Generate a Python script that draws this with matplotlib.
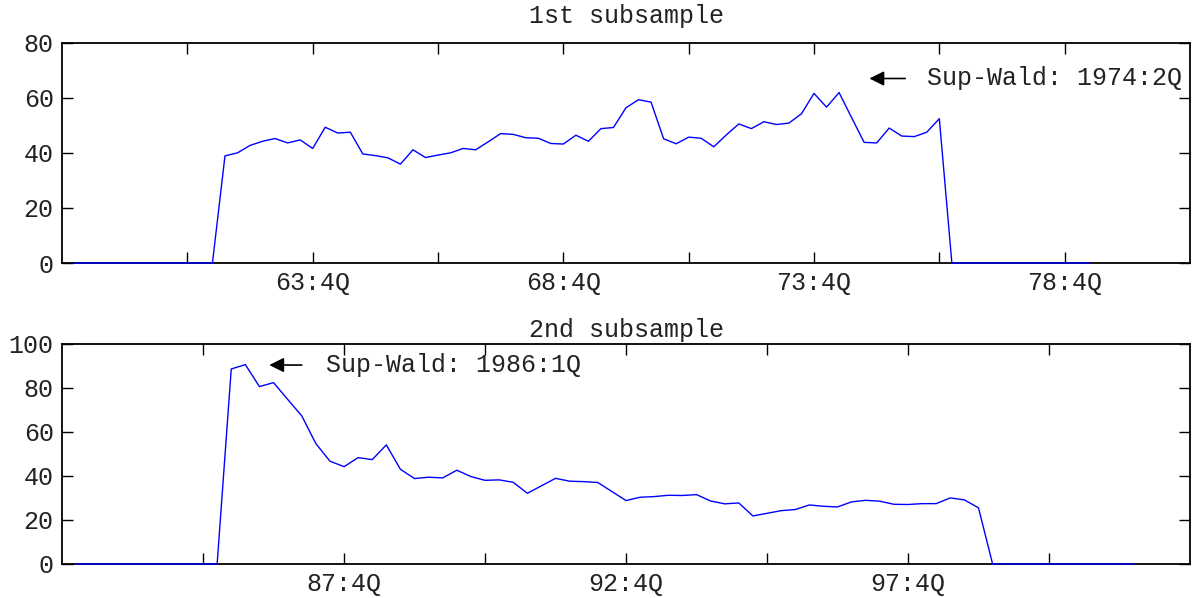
import matplotlib
matplotlib.use("Agg")
import matplotlib.pyplot as plt
import numpy as np

plt.rcParams['font.family'] = ['Liberation Mono', 'DejaVu Sans Mono']
plt.rcParams['font.size'] = 18

# 1st subsample: quarter index 0 = 1958:4Q
q1 = list(range(1, 83))
wald1 = [0, 0, 0, 0, 0, 0, 0, 0, 0, 0, 0, 0,
         38.9, 40.0, 42.7, 44.2, 45.2, 43.6, 44.7, 41.6, 49.3, 47.2,
         47.5, 39.6, 39.0, 38.2, 35.9, 41.1, 38.3, 39.2, 40.0, 41.6,
         41.1, 44.0, 47.0, 46.7, 45.5, 45.3, 43.4, 43.2, 46.4, 44.2,
         48.8, 49.2, 56.4, 59.3, 58.4, 45.1, 43.3, 45.7, 45.3, 42.2,
         46.5, 50.5, 48.8, 51.3, 50.3, 50.8, 54.2, 61.6, 56.6, 61.9,
         52.8, 43.8, 43.6, 49.0, 46.1, 45.9, 47.5, 52.4,
         0, 0, 0, 0, 0, 0, 0, 0, 0, 0, 0, 0]
ticks1 = [10, 20, 30, 40, 50, 60, 70, 80]
labels1 = ['', '63:4Q', '', '68:4Q', '', '73:4Q', '', '78:4Q']

# 2nd subsample: quarter index 0 = 1982:4Q
q2 = list(range(1, 77))
wald2 = [0, 0, 0, 0, 0, 0, 0, 0, 0, 0, 0,
         88.6, 90.6, 80.6, 82.4, 74.8, 67.3, 54.7, 46.7, 44.2, 48.3,
         47.4, 54.1, 43.0, 38.8, 39.4, 39.1, 42.6, 39.7, 38.0, 38.2,
         37.1, 32.1, 35.5, 38.9, 37.6, 37.4, 37.0, 32.9, 28.8, 30.3,
         30.6, 31.2, 31.1, 31.5, 28.6, 27.3, 27.7, 21.8, 23.0, 24.2,
         24.7, 26.8, 26.2, 25.9, 28.2, 28.9, 28.5, 27.1, 27.0, 27.4,
         27.4, 30.0, 29.1, 25.5,
         0, 0, 0, 0, 0, 0, 0, 0, 0, 0, 0]
ticks2 = [10, 20, 30, 40, 50, 60, 70]
labels2 = ['', '87:4Q', '', '92:4Q', '', '97:4Q', '']

fig = plt.figure(figsize=(11.98, 5.98), dpi=100)
ax1 = fig.add_axes([0.0518, 0.5602, 0.9415, 0.3684])
ax2 = fig.add_axes([0.0518, 0.0570, 0.9415, 0.3679])

txtcol = '#222222'

def style(ax, xmax, ymax, ticks, labels, title, tpad):
    ax.set_xlim(0, xmax)
    ax.set_ylim(0, ymax)
    ax.set_xticks(ticks)
    ax.set_xticklabels(labels)
    ax.set_yticks(np.arange(0, ymax + 1, 20))
    ax.tick_params(direction='in', length=8, width=1, top=True, right=True,
                   colors='black', labelcolor=txtcol)
    ax.tick_params(axis='x', pad=6)
    ax.tick_params(axis='y', pad=6)
    for s in ax.spines.values():
        s.set_linewidth(1.3)
    ax.set_title(title, color=txtcol, pad=tpad, fontsize=18)

ax1.plot(q1, wald1, color='blue', lw=1.0, zorder=3, clip_on=False)
style(ax1, 90, 80, ticks1, labels1, '1st subsample', 14)
ax1.annotate('', xy=(64.2, 67), xytext=(67.5, 67),
             arrowprops=dict(arrowstyle='-|>', color='black', lw=1.2, mutation_scale=22))
ax1.text(69.0, 67, 'Sup-Wald: 1974:2Q', va='center', ha='left', color=txtcol)

ax2.plot(q2, wald2, color='blue', lw=1.0, zorder=3, clip_on=False)
style(ax2, 80, 100, ticks2, labels2, '2nd subsample', 5)
ax2.annotate('', xy=(14.5, 90.4), xytext=(17.2, 90.4),
             arrowprops=dict(arrowstyle='-|>', color='black', lw=1.2, mutation_scale=22))
ax2.text(18.7, 90.4, 'Sup-Wald: 1986:1Q', va='center', ha='left', color=txtcol)

fig.savefig('out.png', dpi=100)
